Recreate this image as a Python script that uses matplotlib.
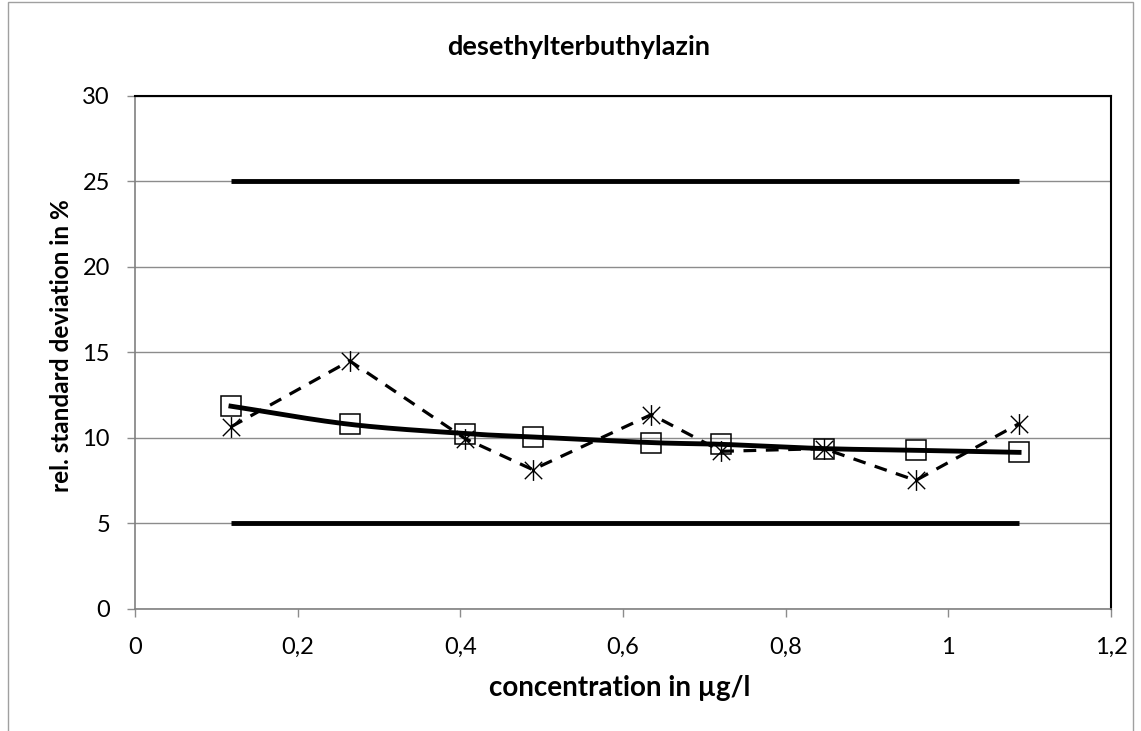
import numpy as np
import matplotlib
matplotlib.use("Agg")
from matplotlib import pyplot as plt
from matplotlib.path import Path
from matplotlib.patches import Rectangle
from matplotlib.ticker import FuncFormatter

plt.rcParams['font.family'] = ['Lato', 'DejaVu Sans']

# data
conc = [0.118, 0.264, 0.406, 0.489, 0.635, 0.721, 0.847, 0.960, 1.087]
rsd_fit = [11.86, 10.80, 10.26, 10.06, 9.73, 9.63, 9.38, 9.28, 9.16]
rsd_meas = [10.65, 14.51, 9.96, 8.15, 11.37, 9.22, 9.38, 7.52, 10.84]
upper_limit = 25
lower_limit = 5

title = "desethylterbuthylazin"
xlabel = "concentration in µg/l"
ylabel = "rel. standard deviation in %"


def smooth(x, y, n=20):
    # Catmull-Rom style smoothing like Excel's "smoothed line"
    x = np.asarray(x, float)
    y = np.asarray(y, float)
    px = np.concatenate([[2 * x[0] - x[1]], x, [2 * x[-1] - x[-2]]])
    py = np.concatenate([[2 * y[0] - y[1]], y, [2 * y[-1] - y[-2]]])
    xs, ys = [], []
    t = np.linspace(0, 1, n)
    for i in range(1, len(px) - 2):
        p0, p1, p2, p3 = [np.array([px[j], py[j]]) for j in (i - 1, i, i + 1, i + 2)]
        c1 = p1 + (p2 - p0) / 6
        c2 = p2 - (p3 - p1) / 6
        pts = ((1 - t) ** 3)[:, None] * p1 + (3 * (1 - t) ** 2 * t)[:, None] * c1 \
            + (3 * (1 - t) * t ** 2)[:, None] * c2 + (t ** 3)[:, None] * p2
        xs.extend(pts[:, 0])
        ys.extend(pts[:, 1])
    return xs, ys


# Excel-like star marker: X plus vertical bar
star = Path([(-1, -1), (1, 1), (-1, 1), (1, -1), (0, -1.2), (0, 1.2)],
            [Path.MOVETO, Path.LINETO, Path.MOVETO, Path.LINETO, Path.MOVETO, Path.LINETO])

fig = plt.figure(figsize=(11.41, 7.31), dpi=100)
ax = fig.add_axes([0.1183, 0.1669, 0.8554, 0.7018])

# limits
ax.plot([conc[0], conc[-1]], [upper_limit, upper_limit], color="black", lw=3.5, solid_capstyle="butt")
ax.plot([conc[0], conc[-1]], [lower_limit, lower_limit], color="black", lw=3.5, solid_capstyle="butt")

# measured values
ax.plot(conc, rsd_meas, color="black", lw=2.3, ls=(0, (4, 3)), zorder=3)
ax.plot(conc, rsd_meas, ls="none", marker=star, ms=15, mec="black", mew=1.0, zorder=4)

# fitted values
sx, sy = smooth(conc, rsd_fit)
ax.plot(sx, sy, color="black", lw=3.5, zorder=5)
ax.plot(conc, rsd_fit, ls="none", marker="s", ms=14, mfc="none", mec="black", mew=1.1, zorder=6)

ax.set_xlim(0, 1.2)
ax.set_ylim(0, 30)
ax.set_xticks(np.arange(0, 1.21, 0.2))
ax.set_yticks(np.arange(0, 31, 5))
ax.xaxis.set_major_formatter(FuncFormatter(lambda v, p: ("%g" % round(v, 1)).replace(".", ",")))
ax.yaxis.grid(True, color="#8c8c8c", lw=1.0)
ax.set_axisbelow(True)
ax.tick_params(axis="both", labelsize=17, length=6, color="#8c8c8c", width=1)
ax.tick_params(axis="x", pad=14)
ax.tick_params(axis="y", pad=12)

for s in ("left", "bottom"):
    ax.spines[s].set_color("#808080")
    ax.spines[s].set_linewidth(1.2)
for s in ("top", "right"):
    ax.spines[s].set_color("black")
    ax.spines[s].set_linewidth(1.5)

fig.text(0.5434, 1 - 696 / 731, xlabel, fontsize=20, fontweight="bold", ha="center", va="baseline")
fig.text(62 / 1141, 1 - 346 / 731, ylabel, fontsize=17.5, fontweight="bold", ha="center", va="center",
         rotation=90)
fig.text(0.507, 1 - 55 / 731, title, fontsize=19.5, fontweight="bold", ha="center", va="baseline")

# chart border
fig.patches.append(Rectangle((0.007, -0.01), 0.986, 1.007, transform=fig.transFigure,
                             fill=False, edgecolor="#a0a0a0", lw=1.0))

fig.savefig("out.png", dpi=100)
